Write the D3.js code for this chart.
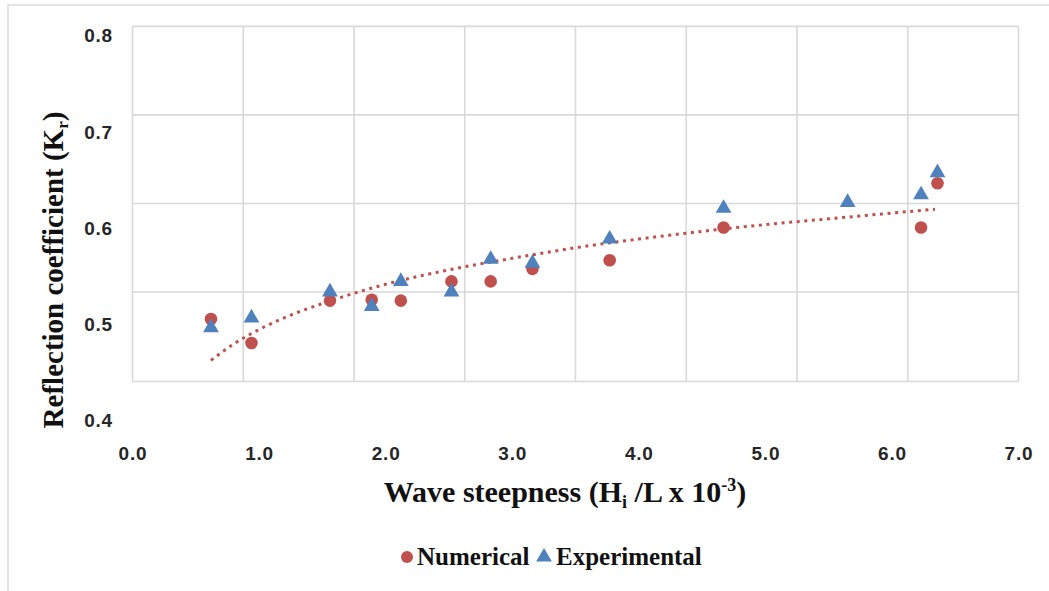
<!DOCTYPE html>
<html>
<head>
<meta charset="utf-8">
<script src="https://cdn.jsdelivr.net/npm/d3@7"></script>
<style>
  html, body { margin: 0; padding: 0; background: #fff; }
  svg { display: block; }
</style>
</head>
<body>
<svg id="chart" width="1049" height="591"></svg>
<script>
// ---- data ----
const numX = [0.62, 0.94, 1.56, 1.89, 2.12, 2.52, 2.83, 3.16, 3.77, 4.67, 6.23, 6.36];
const numY = [0.505, 0.480, 0.524, 0.525, 0.524, 0.544, 0.544, 0.557, 0.566, 0.600, 0.600, 0.646];
const expX = [0.62, 0.94, 1.56, 1.89, 2.12, 2.52, 2.83, 3.16, 3.77, 4.67, 5.65, 6.23, 6.36];
const expY = [0.496, 0.506, 0.533, 0.518, 0.544, 0.533, 0.567, 0.563, 0.588, 0.620, 0.626, 0.634, 0.657];
// dotted trend line samples
const trendX = [0.62, 0.8, 1.0, 1.25, 1.5, 2.0, 2.5, 3.0, 3.5, 4.0, 4.5, 5.0, 5.5, 6.0, 6.34];
const trendY = [0.462, 0.479, 0.494, 0.509, 0.521, 0.541, 0.556, 0.568, 0.579, 0.588, 0.596, 0.603, 0.609, 0.615, 0.619];
// tick labels
const xTicks = [0, 1, 2, 3, 4, 5, 6, 7];
const yTicks = [0.4, 0.5, 0.6, 0.7, 0.8];
// grid lines as drawn in the picture
const xGrid = [0, 0.875, 1.75, 2.625, 3.5, 4.375, 5.25, 6.125, 7.0];
const yGrid = [0.440, 0.533, 0.625, 0.717, 0.809];
const seriesNames = ["Numerical", "Experimental"];
const colors = { num: "#C0504D", exp: "#4F81BD" };

const svg = d3.select("#chart");
const x = d3.scaleLinear().domain([0, 7]).range([132.5, 1018.5]);
const y = d3.scaleLinear().domain([0.4, 0.8]).range([420, 35]);

// outer chart border
svg.append("path")
  .attr("d", "M8,591 V5 H1049")
  .attr("fill", "none").attr("stroke", "#e3e3e3").attr("stroke-width", 2);

// grid
const grid = svg.append("g").attr("stroke", "#d9d9d9").attr("stroke-width", 1.6);
grid.selectAll("line.v").data(xGrid).join("line").attr("class", "v")
  .attr("x1", d => x(d)).attr("x2", d => x(d))
  .attr("y1", y(yGrid[yGrid.length - 1])).attr("y2", y(yGrid[0]));
grid.selectAll("line.h").data(yGrid).join("line").attr("class", "h")
  .attr("x1", x(xGrid[0])).attr("x2", x(xGrid[xGrid.length - 1]))
  .attr("y1", d => y(d)).attr("y2", d => y(d));

// axes (labels only)
const tickFont = g => g.selectAll("text")
  .attr("font-family", "'Liberation Sans', Arial, sans-serif")
  .attr("font-size", 19).attr("font-weight", "bold")
  .attr("letter-spacing", "0.8px").attr("fill", "#262626");

const yAxis = svg.append("g").attr("transform", "translate(113,0)")
  .call(d3.axisLeft(y).tickValues(yTicks).tickFormat(d3.format(".1f")).tickSize(0).tickPadding(0));
yAxis.select(".domain").remove();
yAxis.call(tickFont);
yAxis.selectAll("text").attr("dy", "0.36em");

const xAxis = svg.append("g").attr("transform", "translate(0,446)")
  .call(d3.axisBottom(x).tickValues(xTicks).tickFormat(d3.format(".1f")).tickSize(0).tickPadding(0));
xAxis.select(".domain").remove();
xAxis.call(tickFont);

// trend line
const trend = trendX.map((v, i) => [v, trendY[i]]);
svg.append("path")
  .attr("d", d3.line().x(d => x(d[0])).y(d => y(d[1])).curve(d3.curveMonotoneX)(trend))
  .attr("fill", "none").attr("stroke", colors.num)
  .attr("stroke-width", 3).attr("stroke-dasharray", "3,4.6");

// numerical series (circles)
svg.append("g").selectAll("circle").data(numX.map((v, i) => [v, numY[i]])).join("circle")
  .attr("cx", d => x(d[0])).attr("cy", d => y(d[1])).attr("r", 6.3)
  .attr("fill", colors.num);

// experimental series (triangles)
const tri = d3.symbol().type(d3.symbolTriangle).size(108);
svg.append("g").selectAll("path").data(expX.map((v, i) => [v, expY[i]])).join("path")
  .attr("d", tri)
  .attr("transform", d => `translate(${x(d[0])},${y(d[1])})`)
  .attr("fill", colors.exp);

// axis titles
const serif = "'Liberation Serif', 'Times New Roman', serif";
const yt = svg.append("text")
  .attr("transform", "translate(63,270) rotate(-90)")
  .attr("text-anchor", "middle")
  .attr("font-family", serif).attr("font-size", 29).attr("font-weight", "bold").attr("fill", "#111");
yt.append("tspan").text("Reflection coefficient (K");
yt.append("tspan").text("r").attr("font-size", 17).attr("dy", 5);
yt.append("tspan").text(")").attr("dy", -5);

const xt = svg.append("text")
  .attr("x", 565).attr("y", 502)
  .attr("text-anchor", "middle")
  .attr("font-family", serif).attr("font-size", 30).attr("font-weight", "bold").attr("fill", "#111");
xt.append("tspan").text("Wave steepness (H");
xt.append("tspan").text("i").attr("font-size", 18).attr("dy", 6);
xt.append("tspan").text(" /L x 10").attr("dy", -6);
xt.append("tspan").text("-3").attr("font-size", 18).attr("dy", -11);
xt.append("tspan").text(")").attr("dy", 11);

// legend
const lg = svg.append("g");
lg.append("circle").attr("cx", 407).attr("cy", 557).attr("r", 6).attr("fill", colors.num);
lg.append("text").attr("x", 417).attr("y", 565).text(seriesNames[0])
  .attr("font-family", serif).attr("font-size", 25).attr("font-weight", "bold").attr("fill", "#111");
lg.append("path").attr("d", tri).attr("transform", "translate(544,557)").attr("fill", colors.exp);
lg.append("text").attr("x", 556).attr("y", 565).text(seriesNames[1])
  .attr("font-family", serif).attr("font-size", 25).attr("font-weight", "bold").attr("fill", "#111");
</script>
</body>
</html>
